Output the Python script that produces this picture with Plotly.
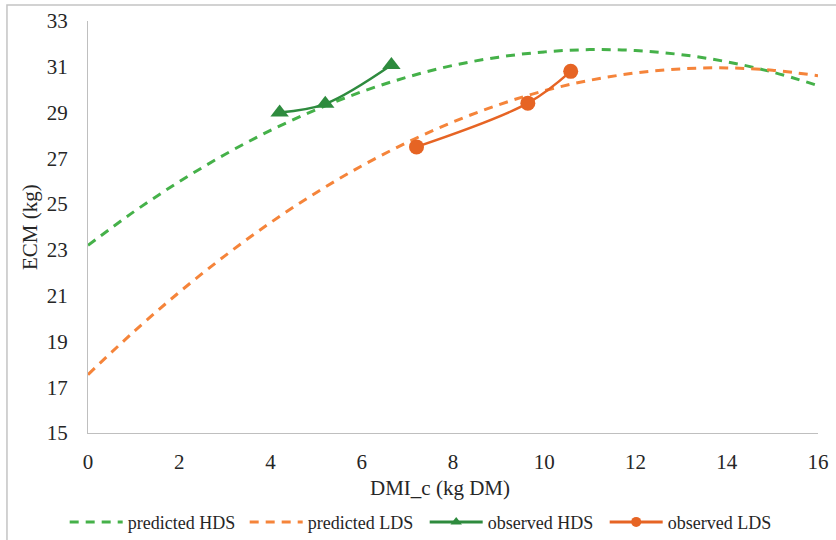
import plotly.graph_objects as go

# Predicted ECM curves, sampled at whole kg of DMI_c
dmi_pred = [0, 1, 2, 3, 4, 5, 6, 7, 8, 9, 10, 11, 12, 13, 14, 15, 16]
ecm_pred_hds = [23.2, 24.66, 25.98, 27.17, 28.22, 29.13, 29.91, 30.55, 31.06,
                31.42, 31.65, 31.75, 31.71, 31.53, 31.22, 30.77, 30.18]
ecm_pred_lds = [17.55, 19.42, 21.15, 22.74, 24.19, 25.50, 26.67, 27.70, 28.59,
                29.34, 29.95, 30.41, 30.73, 30.91, 30.95, 30.85, 30.61]

# Observed means
dmi_obs_hds = [4.2, 5.2, 6.65]
ecm_obs_hds = [29.0, 29.38, 31.08]
dmi_obs_lds = [7.2, 9.64, 10.58]
ecm_obs_lds = [27.5, 29.41, 30.8]

x_ticks = [0, 2, 4, 6, 8, 10, 12, 14, 16]
y_ticks = [15, 17, 19, 21, 23, 25, 27, 29, 31, 33]

GREEN_LIGHT = "#45b149"
GREEN_DARK = "#2e8b3e"
ORANGE_LIGHT = "#f5843a"
ORANGE_DARK = "#e66424"
FONT = "Liberation Serif, Times New Roman, serif"
TEXT = "#262626"
AXIS = "#bfbfbf"
DASH = "9px,7px"

series = [
    dict(name="predicted HDS", x=dmi_pred, y=ecm_pred_hds, color=GREEN_LIGHT,
         dash=DASH, width=3, symbol=None, size=None),
    dict(name="predicted LDS", x=dmi_pred, y=ecm_pred_lds, color=ORANGE_LIGHT,
         dash=DASH, width=3, symbol=None, size=None),
    dict(name="observed HDS", x=dmi_obs_hds, y=ecm_obs_hds, color=GREEN_DARK,
         dash="solid", width=2.5, symbol="triangle-up", size=16),
    dict(name="observed LDS", x=dmi_obs_lds, y=ecm_obs_lds, color=ORANGE_DARK,
         dash="solid", width=2.5, symbol="circle", size=15),
]

fig = go.Figure()
for s in series:
    mode = "lines+markers" if s["symbol"] else "lines"
    marker = dict(symbol=s["symbol"], size=s["size"], color=s["color"]) if s["symbol"] else None
    fig.add_trace(go.Scatter(
        x=s["x"], y=s["y"], mode=mode, name=s["name"], legendgroup=s["name"],
        showlegend=False,
        line=dict(color=s["color"], width=s["width"], dash=s["dash"], shape="spline"),
        marker=marker,
    ))

# Legend keys with smaller markers than the plotted points
for s in series:
    mode = "lines+markers" if s["symbol"] else "lines"
    marker = dict(symbol=s["symbol"], size=10, color=s["color"]) if s["symbol"] else None
    fig.add_trace(go.Scatter(
        x=[None], y=[None], mode=mode, name=s["name"], legendgroup=s["name"],
        line=dict(color=s["color"], width=3, dash=s["dash"]),
        marker=marker,
    ))

fig.update_layout(
    width=836, height=540,
    margin=dict(l=88, r=18, t=21, b=107, autoexpand=False),
    paper_bgcolor="white", plot_bgcolor="white",
    font=dict(family=FONT, size=21, color=TEXT),
    showlegend=True,
    legend=dict(
        orientation="h", x=0.508, xanchor="center", xref="container",
        y=0.033, yanchor="middle", yref="container",
        font=dict(family=FONT, size=18, color=TEXT),
        itemwidth=53, entrywidth=112, traceorder="normal",
    ),
    shapes=[dict(
        type="rect", xref="paper", yref="paper",
        x0=-0.111, x1=1.2, y0=-0.6, y1=1.0388,
        line=dict(color="#c4c4c4", width=1.5), layer="below",
    )],
    annotations=[
        dict(text="DMI_c (kg DM)", xref="paper", yref="paper",
             x=(440 - 88) / 730, y=(433 - 488) / 412,
             xanchor="center", yanchor="middle", showarrow=False,
             font=dict(family=FONT, size=21, color=TEXT)),
        dict(text="ECM (kg)", xref="paper", yref="paper",
             x=(30 - 88) / 730, y=(433 - 227) / 412, textangle=-90,
             xanchor="center", yanchor="middle", showarrow=False,
             font=dict(family=FONT, size=21, color=TEXT)),
    ],
)
fig.update_xaxes(
    range=[0, 16], tickvals=x_ticks, showgrid=False, zeroline=False,
    showline=True, linecolor=AXIS, linewidth=1, ticks="",
    ticklabelstandoff=10, automargin=False,
)
fig.update_yaxes(
    range=[15, 33], tickvals=y_ticks, showgrid=False, zeroline=False,
    showline=True, linecolor=AXIS, linewidth=1, ticks="",
    ticklabelstandoff=15, automargin=False,
)

fig.write_html("out.html")
